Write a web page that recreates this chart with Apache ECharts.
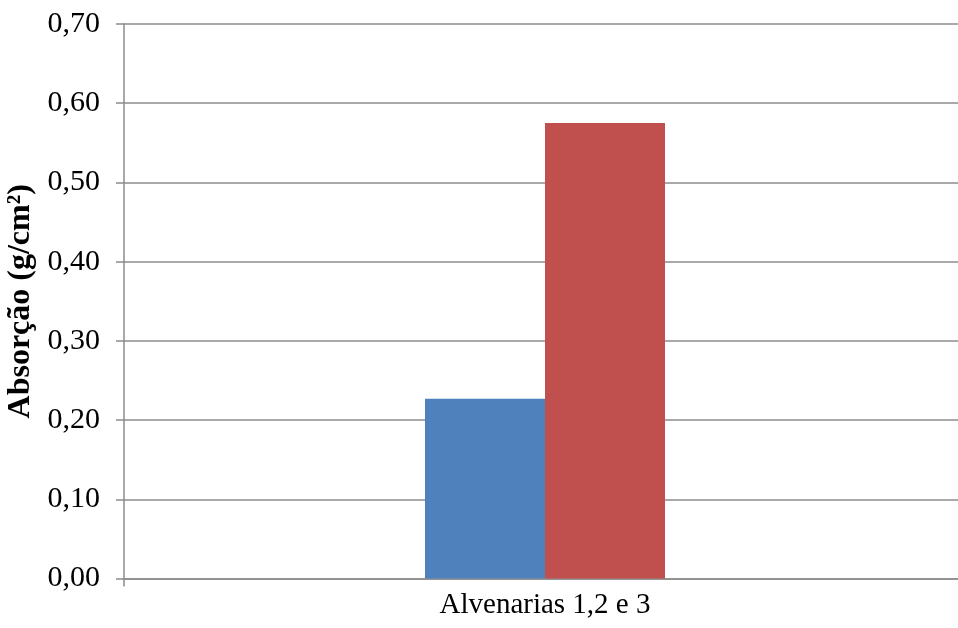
<!DOCTYPE html>
<html>
<head>
<meta charset="utf-8">
<script src="https://cdn.jsdelivr.net/npm/echarts@6/dist/echarts.min.js"></script>
<style>
  html, body { margin: 0; padding: 0; background: #fff; }
  #chart { width: 958px; height: 628px; }
</style>
</head>
<body>
<div id="chart"></div>
<script>
// Absorção de água das alvenarias (g/cm²)
const categories = ['Alvenarias 1,2 e 3'];
const serieA = [0.227];
const serieB = [0.575];
const yTicks = { min: 0, max: 0.7, interval: 0.1 };

const serif = '"Liberation Serif", "DejaVu Serif", serif';
const gridColor = '#8c8c8c';

const chart = echarts.init(document.getElementById('chart'), null, { renderer: 'canvas' });
chart.setOption({
  animation: false,
  backgroundColor: '#ffffff',
  grid: {
    left: 124, top: 24, width: 842, bottom: 49.5,
    containLabel: false, outerBoundsMode: 'none'
  },
  xAxis: {
    type: 'category',
    data: categories,
    axisLine: { show: true, lineStyle: { color: gridColor, width: 1.5 } },
    axisTick: { show: true, length: 8, lineStyle: { color: gridColor, width: 1.5 } },
    axisLabel: { color: '#000', fontFamily: serif, fontSize: 29, margin: 12 }
  },
  yAxis: {
    type: 'value',
    min: yTicks.min,
    max: yTicks.max,
    interval: yTicks.interval,
    name: 'Absorção (g/cm²)',
    nameLocation: 'middle',
    nameRotate: 90,
    nameGap: 82,
    nameTextStyle: { color: '#000', fontFamily: serif, fontSize: 32, fontWeight: 'bold' },
    axisLine: { show: true, lineStyle: { color: gridColor, width: 1.5 } },
    axisTick: { show: true, length: 8, lineStyle: { color: gridColor, width: 1.5 } },
    splitLine: { show: true, lineStyle: { color: gridColor, width: 1.5 } },
    axisLabel: {
      color: '#000', fontFamily: serif, fontSize: 30, margin: 24,
      formatter: v => v.toFixed(2).replace('.', ',')
    }
  },
  series: [
    { type: 'bar', data: serieA, barWidth: 120, barGap: '0%', itemStyle: { color: '#4f81bd' } },
    { type: 'bar', data: serieB, barWidth: 120, barGap: '0%', itemStyle: { color: '#c0504d' } }
  ]
});
</script>
</body>
</html>
